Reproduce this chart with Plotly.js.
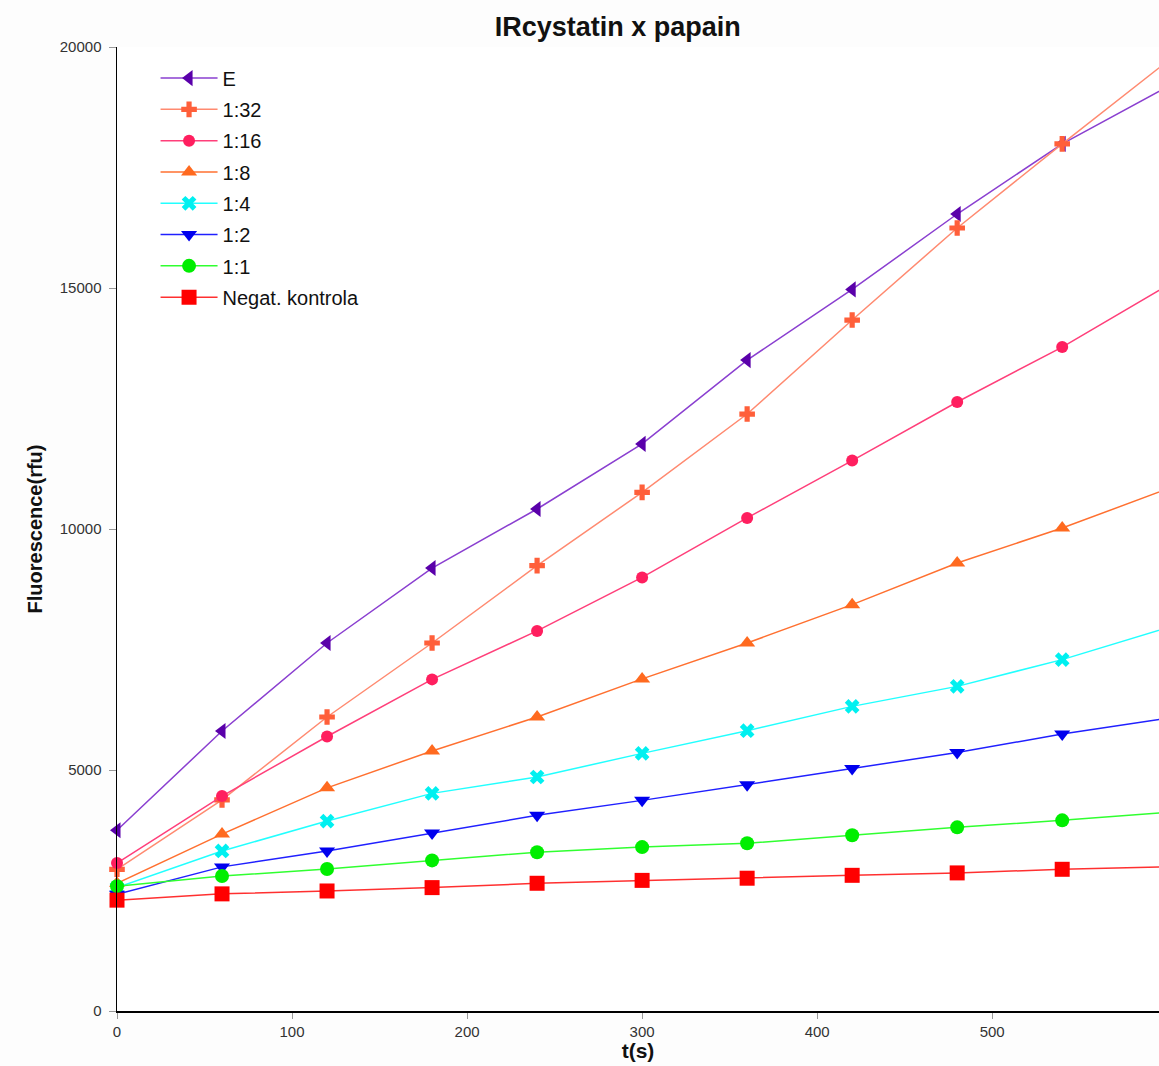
<!DOCTYPE html>
<html>
<head>
<meta charset="utf-8">
<script src="https://cdn.plot.ly/plotly-3.0.1.min.js"></script>
<style>html,body{margin:0;padding:0;background:#fff;}#chart{width:1159px;height:1066px;}</style>
</head>
<body>
<div id="chart"></div>
<script>
// time points (s)
var timeS = [0, 60, 120, 180, 240, 300, 360, 420, 480, 540, 600];

// series values (rfu)
var seriesNames = ["E", "1:32", "1:16", "1:8", "1:4", "1:2", "1:1", "Negat. kontrola"];
var valE      = [3750, 5810, 7635, 9190, 10415, 11765, 13505, 14970, 16535, 17990, 19170];
var val1_32   = [2940, 4380, 6100, 7635, 9240, 10760, 12385, 14335, 16245, 17990, 19700];
var val1_16   = [3070, 4460, 5695, 6880, 7885, 8995, 10230, 11420, 12635, 13775, 15050];
var val1_8    = [2650, 3670, 4630, 5395, 6100, 6890, 7635, 8430, 9295, 10020, 10830];
var val1_4    = [2560, 3320, 3940, 4515, 4855, 5345, 5815, 6320, 6735, 7290, 7950];
var val1_2    = [2420, 2990, 3320, 3693, 4060, 4370, 4695, 5030, 5365, 5745, 6075];
var val1_1    = [2590, 2800, 2945, 3125, 3295, 3400, 3480, 3645, 3810, 3955, 4120];
var valNeg    = [2300, 2430, 2490, 2560, 2650, 2710, 2755, 2815, 2865, 2940, 2990];

var allValues = [valE, val1_32, val1_16, val1_8, val1_4, val1_2, val1_1, valNeg];
var lineColors   = ["#8a3fd0", "#ff8a70", "#ff3f7a", "#ff7030", "#22ffff", "#2020ff", "#30ff30", "#ff3030"];
var markerColors = ["#5a00aa", "#ff5f3a", "#ff1f5f", "#ff6a1f", "#00f0f0", "#0000ee", "#00ee00", "#ff0000"];
var symbols      = ["triangle-left", "cross", "circle", "triangle-up", "x", "triangle-down", "circle", "square"];
var sizes        = [14, 13, 12, 14, 13, 14, 14, 15];

var traces = [];
for (var i = 0; i < seriesNames.length; i++) {
  traces.push({
    type: "scatter",
    mode: "lines+markers",
    name: seriesNames[i],
    legendgroup: "g" + i,
    x: timeS,
    y: allValues[i],
    cliponaxis: false,
    line: {color: lineColors[i], width: 1.5},
    marker: {symbol: symbols[i], size: sizes[i], color: markerColors[i], line: {width: 0}}
  });
}

var font = "Liberation Sans, Arial, sans-serif";
var layout = {
  width: 1159,
  height: 1066,
  paper_bgcolor: "#fdfdfd",
  plot_bgcolor: "#ffffff",
  margin: {l: 117, r: 0, t: 47, b: 55, pad: 0},
  font: {family: font, color: "#222"},
  title: {
    text: "<b>IRcystatin x papain</b>",
    font: {family: font, size: 27, color: "#111"},
    x: 0.533, xanchor: "center",
    y: 0.975, yanchor: "middle"
  },
  showlegend: true,
  legend: {
    x: 0.037, xanchor: "left",
    y: 0.988, yanchor: "top",
    traceorder: "grouped",
    tracegroupgap: 2.3,
    itemwidth: 57,
    bgcolor: "rgba(0,0,0,0)",
    font: {family: font, size: 20, color: "#111"}
  },
  xaxis: {
    range: [0, 595.3],
    tickvals: [0, 100, 200, 300, 400, 500],
    tickformat: "d",
    ticks: "outside", ticklen: 6, tickcolor: "#999", tickwidth: 1,
    showline: true, linecolor: "#000", linewidth: 1.5,
    showgrid: false, zeroline: false,
    tickfont: {family: font, size: 15, color: "#333"},
    title: {text: "<b>t(s)</b>", font: {family: font, size: 21, color: "#111"}, standoff: 2}
  },
  yaxis: {
    range: [0, 20000],
    tickvals: [0, 5000, 10000, 15000, 20000],
    tickformat: "d",
    ticks: "outside", ticklen: 7, tickcolor: "#999", tickwidth: 1,
    ticklabelstandoff: 4,
    showline: true, linecolor: "#000", linewidth: 1.5,
    showgrid: false, zeroline: false,
    tickfont: {family: font, size: 15, color: "#333"},
    title: {text: "<b>Fluorescence(rfu)</b>", font: {family: font, size: 20, color: "#111"}, standoff: 12}
  }
};

Plotly.newPlot("chart", traces, layout, {displayModeBar: false, staticPlot: true});
</script>
</body>
</html>
